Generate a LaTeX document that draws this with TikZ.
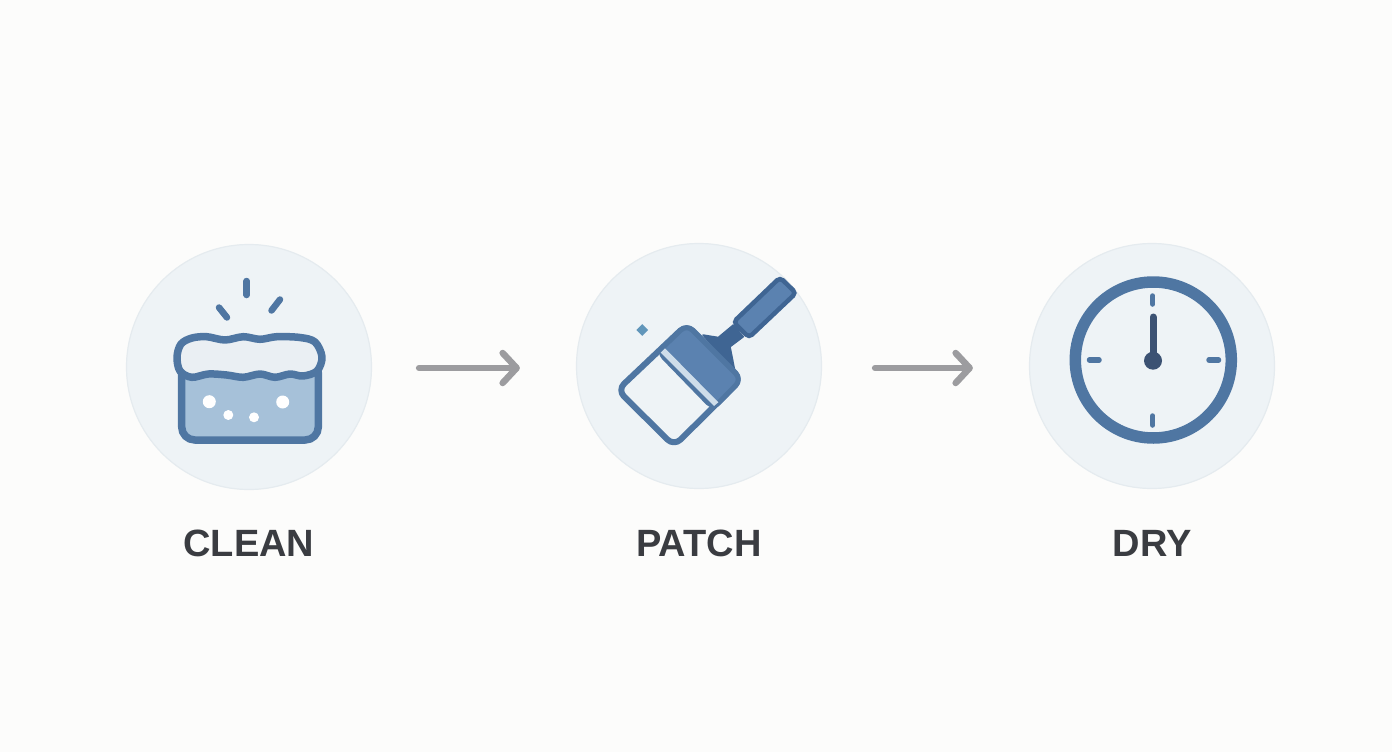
\documentclass[tikz,border=0pt]{standalone}
\usepackage{fontspec}
\setmainfont{Liberation Sans}
\usetikzlibrary{positioning, arrows.meta, shapes.geometric}
\definecolor{paper}{HTML}{FCFCFB}
\definecolor{discfill}{HTML}{EEF3F6}
\definecolor{discline}{HTML}{E5EBEF}
\definecolor{foamfill}{HTML}{EAEFF3}
\definecolor{iconblue}{HTML}{4F76A2}
\definecolor{darkblue}{HTML}{3F6593}
\definecolor{midblue}{HTML}{5B82B0}
\definecolor{waterblue}{HTML}{A6C1D9}
\definecolor{handgray}{HTML}{3C5273}
\definecolor{arrowgray}{HTML}{9C9C9F}
\definecolor{inkgray}{HTML}{3A3C41}
\tikzset{
  disc/.style={circle, draw=discline, fill=discfill, line width=1.2pt, inner sep=0pt, minimum size=245pt},
  steplabel/.style={font=\bfseries\fontsize{38}{40}\selectfont, text=inkgray, inner sep=0pt},
  flow/.style={draw=arrowgray, line width=6.5pt, line cap=round, -{Straight Barb[length=14pt, width=30pt, round]}},
  iconline/.style={draw=iconblue, line width=7.5pt, line join=round},
  tick/.style={draw=iconblue, line width=6.5pt, line cap=round}
}
\begin{document}
\begin{tikzpicture}[x=1pt, y=-1pt]
  \useasboundingbox[fill=paper] (0,0) rectangle (1392,752);

  \node[disc] (clean) at (249,367) {};
  \node[disc] (patch) at (699,366) {};
  \node[disc] (dry) at (1152,366) {};

  \node[steplabel, below=40pt of clean] (cleanlabel) {CLEAN};
  \node[steplabel, below=41pt of patch] (patchlabel) {PATCH};
  \node[steplabel, below=41pt of dry] (drylabel) {DRY};

  \draw[flow, shorten <=47pt, shorten >=56pt] ([yshift=-1pt]clean.east) -- ([yshift=-2pt]patch.west);
  \draw[flow, shorten <=53pt, shorten >=56pt] ([yshift=-2pt]patch.east) -- ([yshift=-2pt]dry.west);

  % sponge
  \foreach \a/\b in {{246.7,281}/{246.7,295}, {219,307.5}/{227,317.5}, {280,299.5}/{271.5,310.5}}
    \draw[tick] (\a) -- (\b);
  \draw[iconline, fill=waterblue, rounded corners=13pt] (181.7,360) rectangle (318.3,440);
  \draw[iconline, fill=foamfill] plot[smooth cycle, tension=0.55] coordinates {
    (177,357) (181,344) (192,338) (206.7,336.7) (225,340) (243.3,336.7) (260,339.3) (276.7,336.7) (300,337.5)
    (315,342) (322,357) (317,371) (303,376) (290,374) (275,377.3) (260,374) (243.3,377.3)
    (226.7,375) (208.3,374) (191.7,377.3) (180,371)};
  \foreach \x/\y/\r in {209.3/401.7/6.5, 228.3/415/5, 254/417.3/5, 282.7/402/6.5}
    \fill[white] (\x,\y) circle (\r pt);

  % brush
  \draw[draw=darkblue, fill=darkblue, line width=1.5pt, line join=round] (703,335) -- (718.3,337.5) -- (733.3,325) -- (743.3,336.7) -- (730,346.7) -- (735,372) -- cycle;
  \draw[draw=darkblue, line width=4.5pt, fill=midblue, rounded corners=4pt] (780,277.5) -- (796,293) -- (749,337.5) -- (733.5,322) -- cycle;
  \draw[iconline, fill=discfill, rounded corners=9pt, line width=6pt] (686.7,324.5) -- (741.5,379.3) -- (674,446) -- (617.5,390) -- cycle;
  \draw[iconline, fill=midblue, rounded corners=8pt, line width=5pt] (686.7,324.5) -- (741.5,379.3) -- (713.3,408.3) -- (658.3,351.7) -- cycle;
  \fill[fill=white!45!waterblue] (665,348.3) -- (718.3,402.3) -- (714,406) -- (660.7,352.7) -- cycle;
  \node[diamond, fill=white!10!cyan!35!iconblue, inner sep=0pt, minimum size=12pt] (speck) at (642.3,330) {};

  % clock
  \draw[draw=iconblue, line width=11.5pt] (1153.3,360) circle (78pt);
  \foreach \a/\b in {{1152.7,296}/{1152.7,304}, {1152.7,416}/{1152.7,425}, {1089.5,360}/{1099,360}, {1209,360}/{1218.5,360}}
    \draw[tick, line width=5.5pt] (\a) -- (\b);
  \draw[draw=handgray, line width=7pt, line cap=round] (1153,317) -- (1153,360);
  \fill[handgray] (1153,360.7) circle (9pt);
\end{tikzpicture}
\end{document}
